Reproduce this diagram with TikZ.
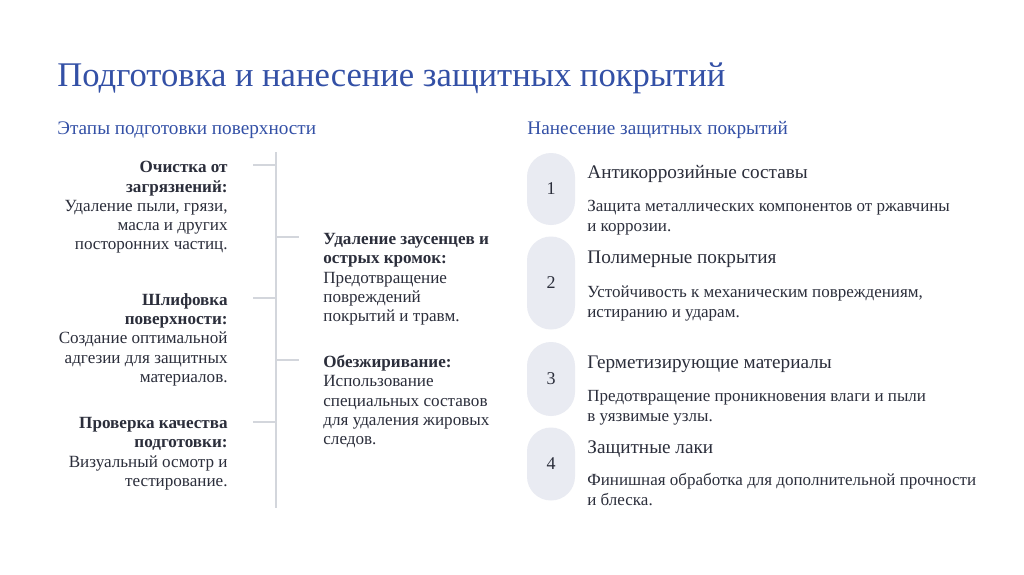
\documentclass[tikz,border=0pt]{standalone}
\usepackage{fontspec}
\setmainfont{Liberation Serif}
\definecolor{titleblue}{HTML}{3350A6}
\definecolor{bodytext}{HTML}{2B2E3B}
\definecolor{pillfill}{HTML}{E9EBF2}
\definecolor{rulegray}{HTML}{D3D6DC}

\begin{document}
\begin{tikzpicture}[x=0.5pt,y=-0.5pt,
  title/.style={anchor=base west,inner sep=0,text=titleblue,font=\fontsize{17.3}{21}\selectfont},
  sub/.style={anchor=base west,inner sep=0,text=titleblue,font=\fontsize{9.6}{12}\selectfont},
  lefttext/.style={anchor=north east,inner sep=0,align=right,text=bodytext,font=\fontsize{8.55}{9.65}\selectfont},
  righttext/.style={anchor=north west,inner sep=0,align=left,text=bodytext,font=\fontsize{8.55}{9.65}\selectfont},
  head/.style={anchor=base west,inner sep=0,text=bodytext,font=\fontsize{9.6}{12}\selectfont},
  desc/.style={anchor=north west,inner sep=0,align=left,text=bodytext,font=\fontsize{8.5}{10}\selectfont},
  pill/.style={fill=pillfill,rounded corners=12pt,minimum width=24pt,inner sep=0,text=bodytext,font=\fontsize{9}{11}\selectfont},
  rule/.style={draw=rulegray,line width=0.6pt}]
                      \fill[white] (0,0) rectangle (1024,574);
                      \useasboundingbox (0,0) rectangle (1024,574);
                      \node[title] (Title) at (57,86) {Подготовка и нанесение защитных покрытий};
                      \node[sub] (SubL) at (57,134) {Этапы подготовки поверхности};
                      \node[sub] (SubR) at (527,134) {Нанесение защитных покрытий};
                      \coordinate (Top) at (276,152);
                      \coordinate (Bot) at (276,508);
                      \coordinate (S1) at (276,165);
                      \coordinate (S2) at (276,298);
                      \coordinate (S3) at (276,422);
                      \coordinate (S4) at (276,237);
                      \coordinate (S5) at (276,360);
                      \coordinate (L1) at (253,165);
                      \coordinate (L2) at (253,298);
                      \coordinate (L3) at (253,422);
                      \coordinate (R1) at (299,237);
                      \coordinate (R2) at (299,360);
                      \path[rule] (Top) edge (Bot);
                      \path[rule] (S1) edge (L1) (S2) edge (L2) (S3) edge (L3)
                      (S4) edge (R1) (S5) edge (R2);
                      \node[lefttext] (N1) at (228,161) {\textbf{Очистка от}\\\textbf{загрязнений:}\\Удаление пыли, грязи,\\масла и других\\посторонних частиц.};
                      \node[lefttext] (N2) at (228,293) {\textbf{Шлифовка}\\\textbf{поверхности:}\\Создание оптимальной\\адгезии для защитных\\материалов.};
                      \node[lefttext] (N3) at (228,417) {\textbf{Проверка качества}\\\textbf{подготовки:}\\Визуальный осмотр и\\тестирование.};
                      \node[righttext] (N4) at (323,233) {\textbf{Удаление заусенцев и}\\\textbf{острых кромок:}\\Предотвращение\\повреждений\\покрытий и травм.};
                      \node[righttext] (N5) at (323,355) {\textbf{Обезжиривание:}\\Использование\\специальных составов\\для удаления жировых\\следов.};
                      \node[pill,minimum height=36pt] (P1) at (551,189) {1};
                      \node[pill,minimum height=46.5pt] (P2) at (551,283) {2};
                      \node[pill,minimum height=37pt] (P3) at (551,379) {3};
                      \node[pill,minimum height=36.5pt] (P4) at (551,464) {4};
                      \node[head] (H1) at (587,178) {Антикоррозийные составы};
                      \node[head] (H2) at (587,263) {Полимерные покрытия};
                      \node[head] (H3) at (587,368) {Герметизирующие материалы};
                      \node[head] (H4) at (587,453) {Защитные лаки};
                      \node[desc] (D1) at (587,200) {Защита металлических компонентов от ржавчины\\и коррозии.};
                      \node[desc] (D2) at (587,285) {Устойчивость к механическим повреждениям,\\истиранию и ударам.};
                      \node[desc] (D3) at (587,390) {Предотвращение проникновения влаги и пыли\\в уязвимые узлы.};
                      \node[desc] (D4) at (587,473) {Финишная обработка для дополнительной прочности\\и блеска.};
                    \end{tikzpicture}
\end{document}
